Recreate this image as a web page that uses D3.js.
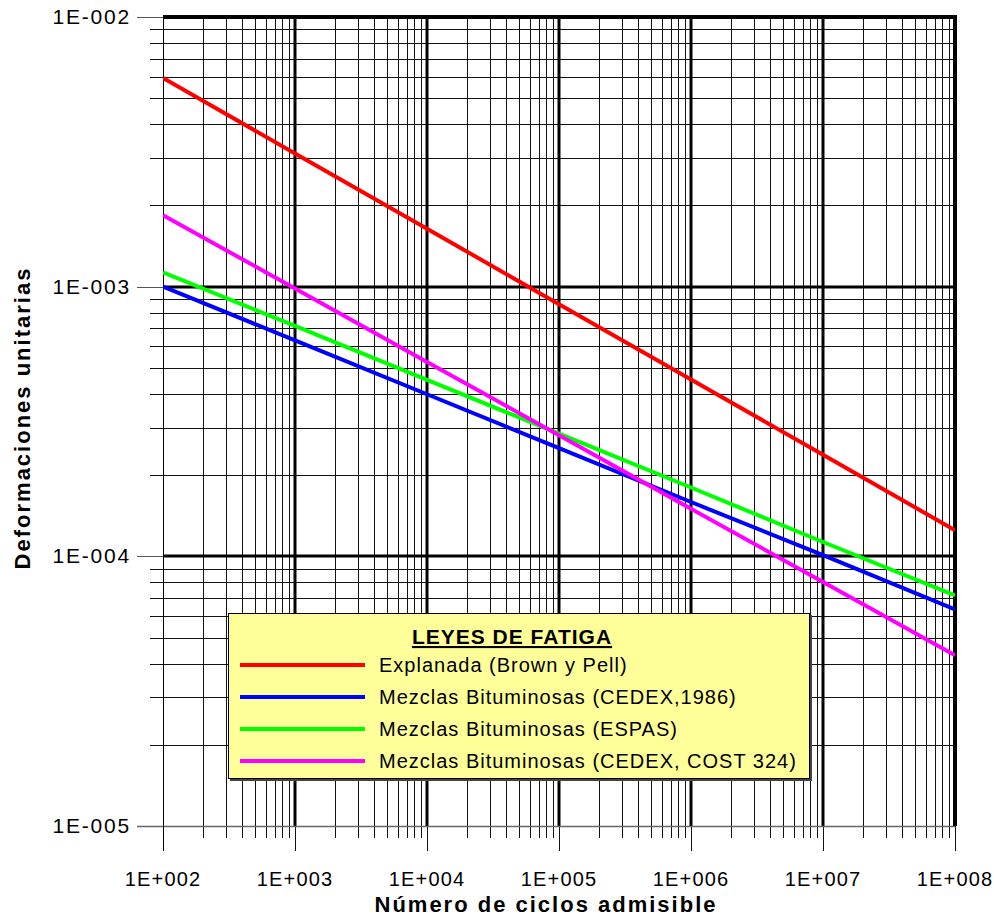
<!DOCTYPE html>
<html lang="es">
<head>
<meta charset="UTF-8">
<script src="https://cdnjs.cloudflare.com/ajax/libs/d3/7.8.5/d3.min.js"></script>
<style>
  body { margin: 0; background: #fff; }
  text { font-family: "Liberation Sans", Arial, sans-serif; fill: #000; }
</style>
</head>
<body>
<div id="chart"></div>
<script>
// ciclos (x) at each decade
var ciclos = [1e2, 1e3, 1e4, 1e5, 1e6, 1e7, 1e8];
var explanada   = [5.94e-3, 3.12e-3, 1.64e-3, 8.60e-4, 4.53e-4, 2.38e-4, 1.25e-4];
var cedex1986   = [1.00e-3, 6.32e-4, 3.99e-4, 2.52e-4, 1.59e-4, 1.01e-4, 6.36e-5];
var espas       = [1.13e-3, 7.15e-4, 4.51e-4, 2.85e-4, 1.80e-4, 1.13e-4, 7.16e-5];
var cost324     = [1.84e-3, 9.85e-4, 5.26e-4, 2.81e-4, 1.50e-4, 8.03e-5, 4.30e-5];

var seriesNames = ["Explanada (Brown y Pell)", "Mezclas Bituminosas (CEDEX,1986)",
                   "Mezclas Bituminosas (ESPAS)", "Mezclas Bituminosas (CEDEX, COST 324)"];
var seriesColors = ["#ff0000", "#0000ff", "#00ff00", "#ff00ff"];
var seriesValues = [explanada, cedex1986, espas, cost324];

var xTickLabels = ["1E+002", "1E+003", "1E+004", "1E+005", "1E+006", "1E+007", "1E+008"];
var yTicks = [1e-5, 1e-4, 1e-3, 1e-2];
var yTickLabels = ["1E-005", "1E-004", "1E-003", "1E-002"];

var W = 994, H = 917;
var pL = 163, pR = 955, pT = 17, pB = 826;

var svg = d3.select("#chart").append("svg")
    .attr("width", W).attr("height", H);

var x = d3.scaleLog().domain([1e2, 1e8]).range([pL, pR]);
var y = d3.scaleLog().domain([1e-5, 1e-2]).range([pB, pT]);

function px(v) { return Math.round(v) + 0.5; }

// minor values
var xMinor = [], yMinor = [];
for (var d = 2; d < 8; d++) for (var k = 2; k <= 9; k++) xMinor.push(k * Math.pow(10, d));
for (var e = -5; e < -2; e++) for (var k2 = 2; k2 <= 9; k2++) yMinor.push(k2 * Math.pow(10, e));

var grid = svg.append("g");
grid.selectAll(".vmin").data(xMinor).enter().append("line")
    .attr("x1", function (v) { return px(x(v)); }).attr("x2", function (v) { return px(x(v)); })
    .attr("y1", pT).attr("y2", pB + 12)
    .attr("stroke", "#111").attr("stroke-width", 1);
grid.selectAll(".hmin").data(yMinor).enter().append("line")
    .attr("y1", function (v) { return px(y(v)); }).attr("y2", function (v) { return px(y(v)); })
    .attr("x1", pL - 13).attr("x2", pR)
    .attr("stroke", "#111").attr("stroke-width", 1);

// major lines
grid.selectAll(".vmaj").data(ciclos.slice(1, 6)).enter().append("line")
    .attr("x1", function (v) { return Math.round(x(v)); }).attr("x2", function (v) { return Math.round(x(v)); })
    .attr("y1", pT).attr("y2", pB)
    .attr("stroke", "#000").attr("stroke-width", 3);
grid.selectAll(".hmaj").data([1e-4, 1e-3]).enter().append("line")
    .attr("y1", function (v) { return Math.round(y(v)); }).attr("y2", function (v) { return Math.round(y(v)); })
    .attr("x1", pL).attr("x2", pR)
    .attr("stroke", "#000").attr("stroke-width", 3);

// major ticks outside
grid.selectAll(".vtick").data(ciclos).enter().append("line")
    .attr("x1", function (v) { return px(x(v)); }).attr("x2", function (v) { return px(x(v)); })
    .attr("y1", pB).attr("y2", pB + 25)
    .attr("stroke", "#111").attr("stroke-width", 1);
grid.selectAll(".htick").data(yTicks).enter().append("line")
    .attr("y1", function (v) { return px(y(v)); }).attr("y2", function (v) { return px(y(v)); })
    .attr("x1", pL - 26).attr("x2", pL)
    .attr("stroke", "#555").attr("stroke-width", 1);

// axis lines and frame
svg.append("line").attr("x1", pL - 26).attr("x2", pR).attr("y1", px(pB)).attr("y2", px(pB))
    .attr("stroke", "#666").attr("stroke-width", 1.5);
svg.append("line").attr("x1", px(pL)).attr("x2", px(pL)).attr("y1", pT).attr("y2", pB + 25)
    .attr("stroke", "#000").attr("stroke-width", 1);
svg.append("line").attr("x1", pL).attr("x2", pR + 2).attr("y1", pT).attr("y2", pT)
    .attr("stroke", "#000").attr("stroke-width", 4);
svg.append("line").attr("x1", pR).attr("x2", pR).attr("y1", pT - 2).attr("y2", pB)
    .attr("stroke", "#000").attr("stroke-width", 4);

// series lines
svg.append("clipPath").attr("id", "clip").append("rect")
    .attr("x", pL).attr("y", pT).attr("width", pR - pL).attr("height", pB - pT);
var line = d3.line()
    .x(function (d) { return x(d[0]); })
    .y(function (d) { return y(d[1]); });
svg.append("g").attr("clip-path", "url(#clip)")
    .selectAll("path").data(seriesValues).enter().append("path")
    .attr("d", function (vals) { return line(vals.map(function (v, i) { return [ciclos[i], v]; })); })
    .attr("fill", "none")
    .attr("stroke", function (v, i) { return seriesColors[i]; })
    .attr("stroke-width", 4);

// tick labels
svg.selectAll(".xl").data(ciclos).enter().append("text")
    .attr("x", function (v) { return x(v); }).attr("y", 886)
    .attr("text-anchor", "middle")
    .style("font-size", "20px").style("letter-spacing", "1.2px")
    .text(function (v, i) { return xTickLabels[i]; });
svg.selectAll(".yl").data(yTicks).enter().append("text")
    .attr("x", 131).attr("y", function (v) { return y(v) + 7; })
    .attr("text-anchor", "end")
    .style("font-size", "21px").style("letter-spacing", "1.8px")
    .text(function (v, i) { return yTickLabels[i]; });

// axis titles
svg.append("text").attr("x", 546).attr("y", 912).attr("text-anchor", "middle")
    .style("font-size", "22px").style("font-weight", "bold").style("letter-spacing", "2px")
    .text("Número de ciclos admisible");
svg.append("text").attr("transform", "translate(30,418) rotate(-90)").attr("text-anchor", "middle")
    .style("font-size", "22px").style("font-weight", "bold").style("letter-spacing", "2px")
    .text("Deformaciones unitarias");

// legend
var lg = svg.append("g");
lg.append("rect").attr("x", 230).attr("y", 615).attr("width", 582).attr("height", 166)
    .attr("fill", "#444");
lg.append("rect").attr("x", 228.5).attr("y", 613.5).attr("width", 581).attr("height", 165)
    .attr("fill", "#ffff99").attr("stroke", "#000").attr("stroke-width", 1);
lg.append("text").attr("x", 512).attr("y", 644).attr("text-anchor", "middle")
    .style("font-size", "21px").style("font-weight", "bold").style("letter-spacing", "1px")
    .style("text-decoration", "underline")
    .text("LEYES DE FATIGA");
var rows = lg.selectAll(".row").data(seriesNames).enter().append("g")
    .attr("transform", function (d, i) { return "translate(0," + (665 + i * 32) + ")"; });
rows.append("line").attr("x1", 240).attr("x2", 365).attr("y1", 0).attr("y2", 0)
    .attr("stroke", function (d, i) { return seriesColors[i]; }).attr("stroke-width", 4);
rows.append("text").attr("x", 379).attr("y", 7)
    .style("font-size", "20px").style("letter-spacing", "1px")
    .text(function (d) { return d; });
</script>
</body>
</html>
